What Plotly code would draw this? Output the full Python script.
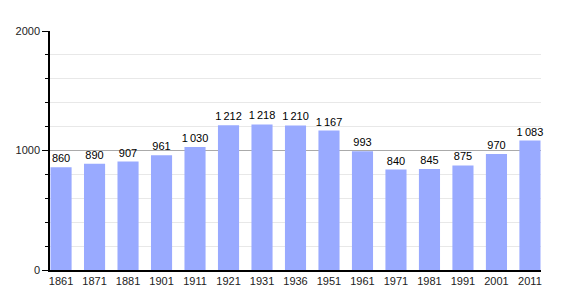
import plotly.graph_objects as go

years = ["1861", "1871", "1881", "1901", "1911", "1921", "1931", "1936",
         "1951", "1961", "1971", "1981", "1991", "2001", "2011"]
population = [860, 890, 907, 961, 1030, 1212, 1218, 1210, 1167, 993,
              840, 845, 875, 970, 1083]

labels = [f"{v:,}".replace(",", "\u2009") for v in population]
xpos = list(range(len(years)))

fig = go.Figure(go.Bar(
    x=xpos, y=population, text=labels, textposition="outside",
    textfont=dict(size=11, color="#000", family="Liberation Sans, Arial"),
    marker=dict(color="#99aaff", line=dict(width=0)),
    width=0.63, cliponaxis=False,
))

fig.update_layout(
    width=570, height=300,
    margin=dict(l=50, r=29, t=31, b=30),
    plot_bgcolor="white", paper_bgcolor="white",
    showlegend=False,
    font=dict(family="Liberation Sans, Arial", size=11, color="#222"),
    uniformtext=dict(minsize=11, mode="show"),
)
fig.update_xaxes(
    range=[-0.33, 14.33], tickvals=xpos, ticktext=years,
    showline=True, linecolor="#000", linewidth=1.5, ticks="",
    showgrid=False, zeroline=False, tickfont=dict(size=11, color="#222"),
)
fig.update_yaxes(
    range=[0, 2000], tickvals=[0, 1000, 2000],
    showline=True, linecolor="#000", linewidth=1.5,
    ticks="outside", ticklen=6, tickcolor="#000", tickwidth=1,
    showgrid=True, gridcolor="#aaaaaa", gridwidth=1,
    zeroline=False, tickfont=dict(size=11, color="#222"),
    minor=dict(dtick=200, ticks="outside", ticklen=3, tickcolor="#000",
               showgrid=True, gridcolor="#e8e8e8", gridwidth=1),
)

fig.write_html("out.html")
